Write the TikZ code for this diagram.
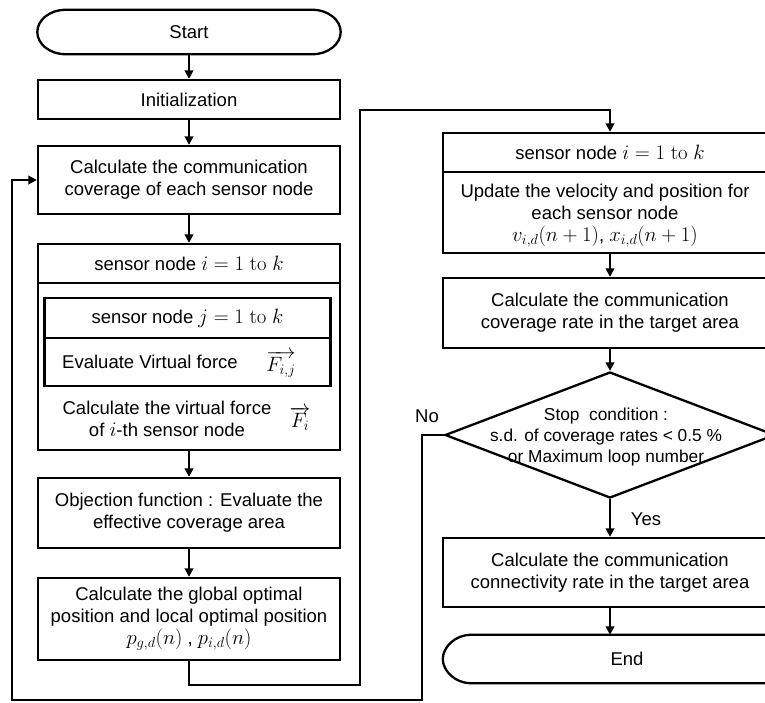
\documentclass[tikz,border=0pt]{standalone}
\usepackage[no-math]{fontspec}
\setmainfont{Liberation Sans}
\usetikzlibrary{shapes.geometric,arrows.meta}
\tikzstyle{thickline}=[line width=2.3pt, draw=black]
\tikzstyle{flowarrow}=[line width=2.3pt, -{Triangle[length=8.5pt,width=8.5pt]}]
\tikzstyle{box}=[rectangle, thickline, minimum width=302pt, inner sep=0pt, align=center, anchor=center]
\tikzstyle{rbox}=[box, minimum width=334pt]
\tikzstyle{term}=[rectangle, minimum width=303pt, minimum height=44pt, inner sep=0pt]
\tikzstyle{annot}=[align=center, inner sep=0pt]
\newcommand{\mth}[1]{{\fontsize{20.5pt}{22pt}\selectfont$#1$}}
\newcommand{\drawterm}[1]
{
  \draw[thickline] ([xshift=28pt]#1.north west) -- ([xshift=-28pt]#1.north east)
    .. controls ([xshift=-12.5pt]#1.north east) and ([yshift=12pt]#1.east) .. (#1.east)
    .. controls ([yshift=-12pt]#1.east) and ([xshift=-12.5pt]#1.south east) .. ([xshift=-28pt]#1.south east)
    -- ([xshift=28pt]#1.south west)
    .. controls ([xshift=12.5pt]#1.south west) and ([yshift=-12pt]#1.west) .. (#1.west)
    .. controls ([yshift=12pt]#1.west) and ([xshift=12.5pt]#1.north west) .. cycle;
}

\begin{document}
\begin{tikzpicture}[x=1pt, y=-1pt, font=\fontsize{18.5pt}{22pt}\selectfont]
	\useasboundingbox (0,0) rectangle (765,702);

	% left column
	\node[term] (start) at (189,32) {Start};
	\drawterm{start}
	\node[box, minimum height=39pt] (init) at (189,99.5) {Initialization};
	\node[box, minimum height=68pt] (cover) at (189,180) {Calculate the communication\\coverage of each sensor node};
	\node[box, minimum height=206pt] (sensi) at (189,347) {};
	\node[box, minimum height=39pt] (sensihead) at (189,263.5) {sensor node \mth{i = 1\ \mathrm{to}\ k}};
	\node[box, minimum width=286pt, minimum height=88pt] (sensj) at (187.5,342) {};
	\node[box, minimum width=286pt, minimum height=40pt] (sensjhead) at (187.5,318) {sensor node \mth{j = 1\ \mathrm{to}\ k}};
	\node[annot] (evaltxt) at (150,362) {Evaluate Virtual force};
	\node[annot] (fij) at (281,364) {\mth{\overrightarrow{F_{i,j}}}};
	\node[annot] (virttxt) at (167,418.5) {Calculate the virtual force\\of \mth{i}-th sensor node};
	\node[annot] (fi) at (300,419) {\mth{\overrightarrow{F_i}}};
	\node[box, minimum height=70pt] (objective) at (189,513) {Objection function : Evaluate the\\effective coverage area};
	\node[box, minimum height=82pt] (globalbest) at (189,619) {Calculate the global optimal\\position and local optimal position\\\mth{p_{g,d}(n)} , \mth{p_{i,d}(n)}};

	% right column
	\node[rbox, minimum height=120pt] (rsens) at (610,193) {};
	\node[rbox, minimum height=39pt] (rsenshead) at (610,152.5) {sensor node \mth{i = 1\ \mathrm{to}\ k}};
	\node[annot] (updatetxt) at (605,215.5) {Update the velocity and position for\\each sensor node\\\mth{v_{i,d}(n+1)}, \mth{x_{i,d}(n+1)}};
	\node[rbox, minimum height=70pt] (rcover) at (610,313) {Calculate the communication\\coverage rate in the target area};
	\node[diamond, thickline, minimum width=330pt, minimum height=126pt, inner sep=0pt] (stop) at (610,435) {};
	\node[annot, font=\fontsize{17.3pt}{21pt}\selectfont] (stoptxt) at (606,437) {Stop\ \ condition :\\s.d. of coverage rates < 0.5 \%\\or Maximum loop number};
	\node[annot] (yes) at (646,519) {Yes};
	\node[annot] (no) at (427,416) {No};
	\node[rbox, minimum height=69pt] (connect) at (610,572.5) {Calculate the communication\\connectivity rate in the target area};
	\node[term, minimum width=368pt, minimum height=48pt] (finish) at (627,659) {End};
	\drawterm{finish}

	\draw[flowarrow] (start) -- (init);
	\draw[flowarrow] (init) -- (cover);
	\draw[flowarrow] (cover) -- (sensihead);
	\draw[flowarrow] (sensi) -- (objective);
	\draw[flowarrow] (objective) -- (globalbest);
	\coordinate (jump1) at (360,685);
	\coordinate (jump2) at (360,110);
	\draw[flowarrow] (globalbest.south) |- (jump1) -- (jump2) -| (rsenshead.north);
	\draw[flowarrow] (rsens) -- (rcover);
	\draw[flowarrow] (rcover) -- (stop);
	\draw[flowarrow] (stop) -- (connect);
	\draw[flowarrow] (connect.south) -- (connect.south |- finish.north);
	\coordinate (back1) at (422,700);
	\coordinate (back2) at (12,700);
	\draw[flowarrow] (stop.west) -| (back1) -- (back2) |- (cover.west);
\end{tikzpicture}
\end{document}
